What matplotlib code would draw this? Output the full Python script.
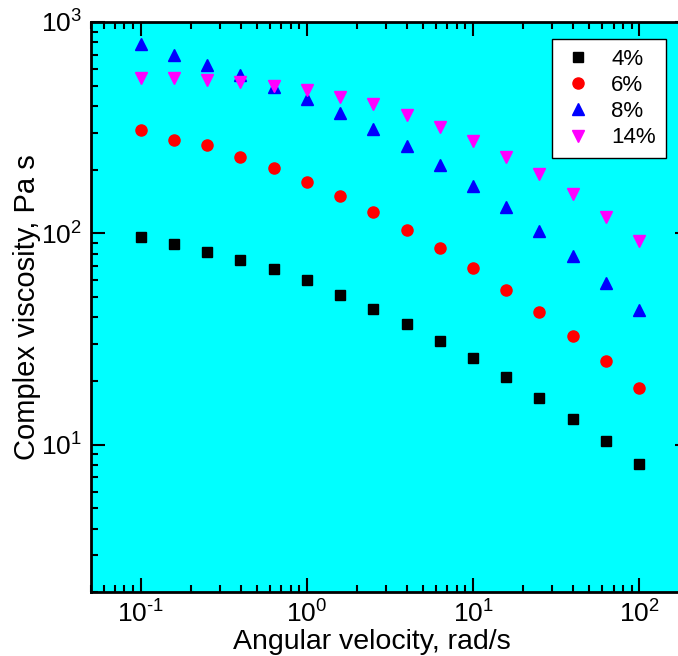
import numpy as np
import matplotlib
matplotlib.use('Agg')
import matplotlib.pyplot as plt

# angular velocity, rad/s (5 points per decade)
omega = [0.1, 0.158, 0.251, 0.398, 0.631, 1.0, 1.58, 2.51, 3.98, 6.31,
         10.0, 15.8, 25.1, 39.8, 63.1, 100.0]

# complex viscosity, Pa s
eta_4 = [96.3, 89.2, 81.8, 74.9, 67.9, 60.3, 51.2, 44.0, 37.3, 31.0,
         25.8, 21.0, 16.7, 13.3, 10.4, 8.1]
eta_6 = [309, 277, 262, 230, 204, 175, 150, 126, 104, 85.4,
         68.7, 54.1, 42.6, 32.7, 24.9, 18.6]
eta_8 = [787, 698, 626, 562, 493, 432, 371, 312, 259, 211,
         168, 133.5, 102.8, 78.3, 58.3, 43.5]
eta_14 = [544, 544, 532, 520, 498, 477, 442, 410, 363, 319,
          274, 230, 191, 154, 120, 92]

labels = ['4%', '6%', '8%', '14%']

xticks = [0.1, 1, 10, 100]
xticklabels = ['$10^{\u20101}$', '$10^{0}$', '$10^{1}$', '$10^{2}$']
yticks = [10, 100, 1000]
yticklabels = ['$10^{1}$', '$10^{2}$', '$10^{3}$']

plt.rcParams['font.family'] = ['Liberation Sans', 'DejaVu Sans']
plt.rcParams['mathtext.fontset'] = 'custom'
plt.rcParams['mathtext.rm'] = 'Liberation Sans'
plt.rcParams['mathtext.it'] = 'Liberation Sans:italic'
plt.rcParams['mathtext.default'] = 'regular'
plt.rcParams['axes.unicode_minus'] = False

fig = plt.figure(figsize=(6.78, 6.56), dpi=100)
# axes runs a little past the right edge, as in the reference
ax = fig.add_axes([0.1335, 0.0968, 0.8832, 0.8697])
ax.set_facecolor('#00FFFF')

ax.plot(omega, eta_4, ls='none', marker='s', ms=6.8, color='black', label=labels[0])
ax.plot(omega, eta_6, ls='none', marker='o', ms=8, color='#FF0000', label=labels[1])
ax.plot(omega, eta_8, ls='none', marker='^', ms=9, color='#0000FF', label=labels[2])
ax.plot(omega, eta_14, ls='none', marker='v', ms=9, color='#FF00FF', label=labels[3])

ax.set_xscale('log')
ax.set_yscale('log')
ax.set_xlim(0.05, 200)
ax.set_ylim(2, 1000)
ax.set_xticks(xticks)
ax.set_xticklabels(xticklabels)
ax.set_yticks(yticks)
ax.set_yticklabels(yticklabels)

for s in ax.spines.values():
    s.set_linewidth(2)
ax.tick_params(which='both', direction='in', top=True, right=True, width=1.5,
               labelsize=19)
ax.tick_params(which='major', length=10, pad=6)
ax.tick_params(which='minor', length=5)

ax.set_xlabel('Angular velocity, rad/s', fontsize=20.5)
ax.xaxis.set_label_coords(0.47, -0.064, transform=ax.transAxes)
ax.set_ylabel('Complex viscosity, Pa s', fontsize=21, labelpad=0)

leg = ax.legend(loc='upper right', bbox_to_anchor=(0.9823, 0.9405),
                bbox_transform=fig.transFigure, borderaxespad=0,
                fontsize=16, fancybox=False, edgecolor='black',
                framealpha=1, labelspacing=0.23, handletextpad=0.77,
                handlelength=1.45, borderpad=0.45)
leg.get_frame().set_linewidth(1)

fig.savefig('out.png', dpi=100)
